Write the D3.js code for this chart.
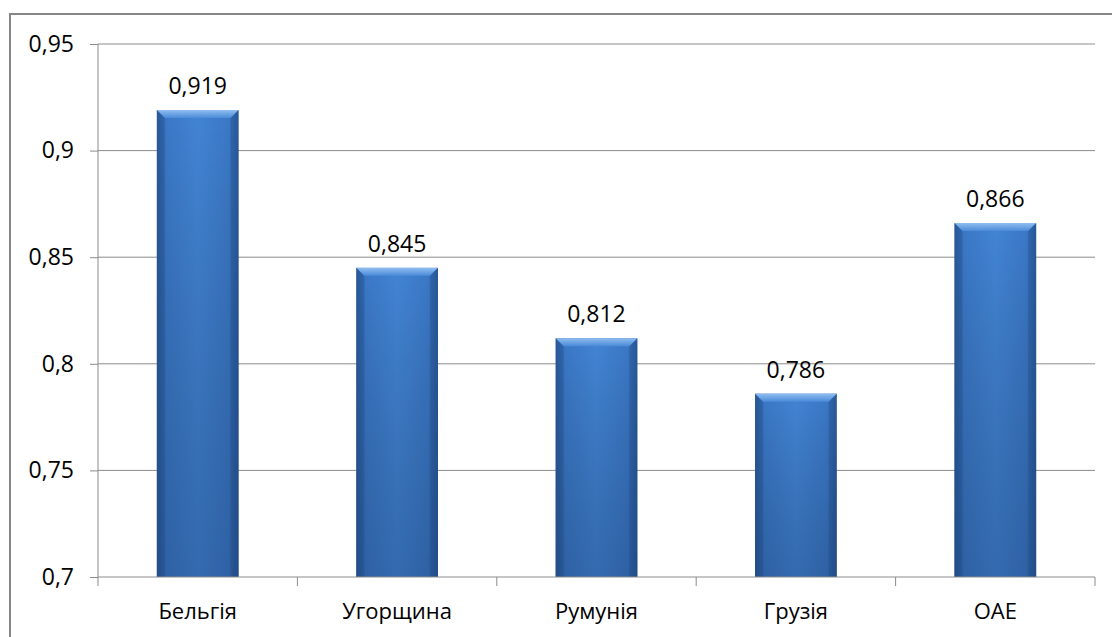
<!DOCTYPE html>
<html>
<head>
<meta charset="utf-8">
<script src="https://cdn.jsdelivr.net/npm/d3@7"></script>
<style>
  body { margin: 0; background: #fff; }
  svg { display: block; }
</style>
</head>
<body>
<svg width="1112" height="637"></svg>
<script>
// data
const countries = ["Бельгія", "Угорщина", "Румунія", "Грузія", "ОАЕ"];
const values = [0.919, 0.845, 0.812, 0.786, 0.866];
const yTicks = [0.7, 0.75, 0.8, 0.85, 0.9, 0.95];

const width = 1112, height = 637;
const margin = {top: 44, right: 17, bottom: 60, left: 98};
const plotW = width - margin.left - margin.right,
      plotH = height - margin.top - margin.bottom;

const svg = d3.select("svg");
const fmt = d => String(d).replace(".", ",");
const font = "'Open Sans', sans-serif";

// outer chart border
svg.append("rect")
    .attr("x", 10).attr("y", 14)
    .attr("width", width + 20).attr("height", height + 20)
    .attr("fill", "#fff")
    .attr("stroke", "#878787")
    .attr("stroke-width", 2);

const defs = svg.append("defs");
const hGrad = defs.append("linearGradient").attr("id", "barH")
    .attr("x1", 0).attr("x2", 1).attr("y1", 0).attr("y2", 0);
hGrad.append("stop").attr("offset", "0%").attr("stop-color", "#2d5e9f");
hGrad.append("stop").attr("offset", "12%").attr("stop-color", "#3b78c6");
hGrad.append("stop").attr("offset", "50%").attr("stop-color", "#4284d4");
hGrad.append("stop").attr("offset", "88%").attr("stop-color", "#3b78c6");
hGrad.append("stop").attr("offset", "100%").attr("stop-color", "#2d5e9f");

const vGrad = defs.append("linearGradient").attr("id", "barV")
    .attr("x1", 0).attr("x2", 0).attr("y1", 0).attr("y2", 1);
vGrad.append("stop").attr("offset", "0%").attr("stop-color", "#000").attr("stop-opacity", 0);
vGrad.append("stop").attr("offset", "100%").attr("stop-color", "#0a1e40").attr("stop-opacity", 0.25);

const topGrad = defs.append("linearGradient").attr("id", "barTop")
    .attr("x1", 0).attr("x2", 0).attr("y1", 0).attr("y2", 1);
topGrad.append("stop").attr("offset", "0%").attr("stop-color", "#8fbdf0");
topGrad.append("stop").attr("offset", "100%").attr("stop-color", "#4a8ad8");

const g = svg.append("g")
    .attr("transform", `translate(${margin.left},${margin.top})`);

const x = d3.scaleBand().domain(countries).range([0, plotW]).paddingInner(0.59).paddingOuter(0.295);
const band = d3.scaleBand().domain(countries).range([0, plotW]);
const y = d3.scaleLinear().domain([0.7, 0.95]).range([plotH, 0]);

// gridlines
g.selectAll(".grid").data(yTicks.slice(1)).join("line")
    .attr("x1", 0).attr("x2", plotW)
    .attr("y1", d => y(d)).attr("y2", d => y(d))
    .attr("stroke", "#8c8c8c").attr("stroke-width", 1);

// y axis
const yAxis = g.append("g").call(d3.axisLeft(y).tickValues(yTicks).tickSize(8).tickPadding(16).tickFormat(fmt));
yAxis.select(".domain").attr("stroke", "#8c8c8c").attr("d", `M0,0V${plotH}`);
yAxis.selectAll(".tick line").attr("stroke", "#8c8c8c");
yAxis.selectAll("text").attr("font-family", font).attr("font-size", 23).attr("fill", "#000");

// bars
const bars = g.selectAll(".bar").data(countries).join("g").attr("class", "bar");
bars.append("rect")
    .attr("x", d => x(d)).attr("width", x.bandwidth())
    .attr("y", (d, i) => y(values[i])).attr("height", (d, i) => plotH - y(values[i]))
    .attr("fill", "url(#barH)");
bars.append("rect")
    .attr("x", d => x(d)).attr("width", x.bandwidth())
    .attr("y", (d, i) => y(values[i])).attr("height", (d, i) => plotH - y(values[i]))
    .attr("fill", "url(#barV)");
// bevel top
bars.append("path")
    .attr("d", (d, i) => {
      const x0 = x(d), x1 = x0 + x.bandwidth(), t = y(values[i]), b = 8;
      return `M${x0},${t}H${x1}L${x1 - b},${t + b}H${x0 + b}Z`;
    })
    .attr("fill", "url(#barTop)");
bars.append("path")
    .attr("d", (d, i) => {
      const x0 = x(d), t = y(values[i]), b = 8;
      return `M${x0},${t}L${x0 + b},${t + b}V${plotH}H${x0}Z`;
    })
    .attr("fill", "#1f4a85").attr("opacity", 0.3);
bars.append("path")
    .attr("d", (d, i) => {
      const x1 = x(d) + x.bandwidth(), t = y(values[i]), b = 8;
      return `M${x1},${t}L${x1 - b},${t + b}V${plotH}H${x1}Z`;
    })
    .attr("fill", "#1f4a85").attr("opacity", 0.3);

// value labels
g.selectAll(".val").data(countries).join("text")
    .attr("x", d => x(d) + x.bandwidth() / 2)
    .attr("y", (d, i) => y(values[i]) - 16)
    .attr("text-anchor", "middle")
    .attr("font-family", font).attr("font-size", 23)
    .text((d, i) => fmt(values[i]));

// x axis
const xAxisG = g.append("g").attr("transform", `translate(0,${plotH})`);
xAxisG.append("line").attr("x1", 0).attr("x2", plotW).attr("stroke", "#8c8c8c");
xAxisG.selectAll(".xt").data(d3.range(countries.length + 1)).join("line")
    .attr("x1", i => i * band.step()).attr("x2", i => i * band.step())
    .attr("y1", 0).attr("y2", 9).attr("stroke", "#8c8c8c");
xAxisG.selectAll(".xl").data(countries).join("text")
    .attr("x", d => band(d) + band.bandwidth() / 2)
    .attr("y", 42)
    .attr("text-anchor", "middle")
    .attr("font-family", font).attr("font-size", 22)
    .text(d => d);
</script>
</body>
</html>
